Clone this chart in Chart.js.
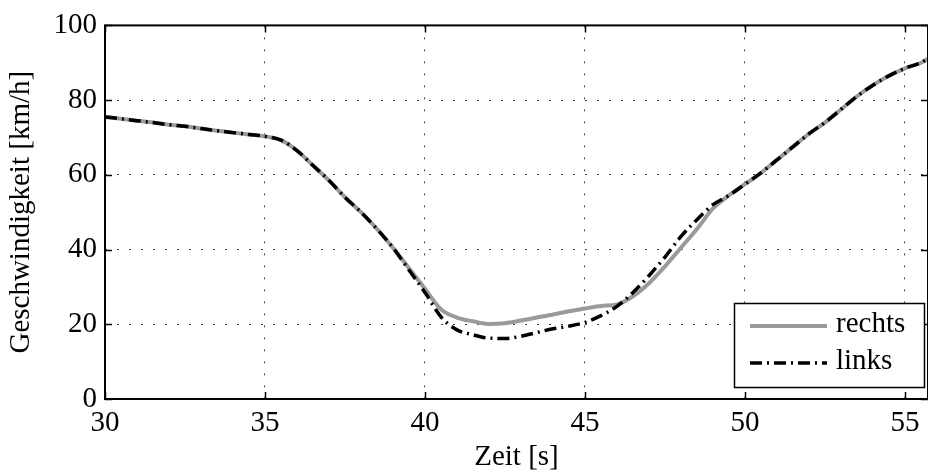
<!DOCTYPE html>
<html>
<head>
<meta charset="utf-8">
<script src="https://cdn.jsdelivr.net/npm/chart.js@4"></script>
<style>
  html, body { margin: 0; padding: 0; background: #fff; }
  #wrap { width: 928px; height: 473px; }
</style>
</head>
<body>
<div id="wrap"><canvas id="grafico" width="928" height="473"></canvas></div>
<script>
// Zeit [s]
const zeit = [30, 30.5, 31, 31.5, 32, 32.5, 33, 33.5, 34, 34.5, 35, 35.5, 36, 36.5, 37, 37.5, 38, 38.5, 39, 39.5,
  40, 40.5, 41, 41.5, 42, 42.5, 43, 43.5, 44, 44.5, 45, 45.5, 46, 46.5, 47, 47.5, 48, 48.5, 49, 49.5,
  50, 50.5, 51, 51.5, 52, 52.5, 53, 53.5, 54, 54.5, 55, 55.5, 55.7];
// Geschwindigkeit [km/h]
const rechts = [75.5, 75.0, 74.5, 74.0, 73.4, 73.0, 72.4, 71.8, 71.3, 70.8, 70.3, 69.3, 66.5, 62.5, 58.5, 54.0, 50.0, 45.5, 40.5, 35.0,
  29.5, 24.0, 21.8, 20.8, 20.1, 20.3, 21.0, 21.8, 22.6, 23.5, 24.2, 24.9, 25.3, 27.5, 31.0, 35.5, 40.5, 45.5, 51.0, 54.5,
  57.5, 60.5, 64.0, 67.5, 71.0, 74.0, 77.5, 81.0, 84.0, 86.5, 88.5, 90.0, 91.0];
const links = [75.5, 75.0, 74.5, 74.0, 73.4, 73.0, 72.4, 71.8, 71.3, 70.8, 70.3, 69.3, 66.5, 62.5, 58.5, 54.0, 50.0, 45.5, 40.5, 34.5,
  28.5, 22.0, 18.5, 17.2, 16.3, 16.2, 16.8, 17.8, 18.8, 19.5, 20.5, 22.3, 24.8, 28.5, 33.0, 38.0, 43.5, 48.0, 52.0, 54.5,
  57.5, 60.5, 64.0, 67.5, 71.0, 74.0, 77.5, 81.0, 84.0, 86.5, 88.5, 90.0, 91.0];
const xTicks = [30, 35, 40, 45, 50, 55];
const yTicks = [0, 20, 40, 60, 80, 100];
const legendeNamen = ['rechts', 'links'];

const SCHRIFT = '"Liberation Serif", "DejaVu Serif", serif';
const GROESSE = 29;
const GRAU = '#9a9a9a';
const STRICHPUNKT = [12, 5, 2, 5];

function punkte(werte) {
  return zeit.map((t, i) => ({ x: t, y: werte[i] }));
}

// Rahmen, innere Teilstriche und Legende wie in MATLAB
const rahmenPlugin = {
  id: 'rahmen',
  afterDatasetsDraw(chart) {
    const ctx = chart.ctx;
    const a = chart.chartArea;
    const sx = chart.scales.x;
    const sy = chart.scales.y;
    ctx.save();
    ctx.strokeStyle = '#000';
    ctx.lineWidth = 1.5;
    const tl = 7;
    xTicks.forEach(v => {
      const px = Math.round(sx.getPixelForValue(v)) + 0.5;
      ctx.beginPath();
      ctx.moveTo(px, a.bottom); ctx.lineTo(px, a.bottom - tl);
      ctx.moveTo(px, a.top); ctx.lineTo(px, a.top + tl);
      ctx.stroke();
    });
    yTicks.forEach(v => {
      const py = Math.round(sy.getPixelForValue(v)) + 0.5;
      ctx.beginPath();
      ctx.moveTo(a.left, py); ctx.lineTo(a.left + tl, py);
      ctx.moveTo(a.right, py); ctx.lineTo(a.right - tl, py);
      ctx.stroke();
    });
    ctx.lineWidth = 2;
    ctx.strokeRect(a.left, a.top, a.right - a.left, a.bottom - a.top);

    // Legende
    const lx = 734, ly = 303, lw = 190, lh = 84;
    ctx.fillStyle = '#fff';
    ctx.fillRect(lx, ly, lw, lh);
    ctx.lineWidth = 1.5;
    ctx.strokeStyle = '#000';
    ctx.strokeRect(lx + 0.5, ly + 0.5, lw, lh);

    ctx.lineWidth = 4;
    ctx.strokeStyle = GRAU;
    ctx.beginPath();
    ctx.moveTo(750, 326); ctx.lineTo(827, 326);
    ctx.stroke();

    ctx.lineWidth = 3.5;
    ctx.strokeStyle = '#000';
    ctx.setLineDash(STRICHPUNKT);
    ctx.beginPath();
    ctx.moveTo(750, 363); ctx.lineTo(827, 363);
    ctx.stroke();
    ctx.setLineDash([]);

    ctx.fillStyle = '#000';
    ctx.font = GROESSE + 'px ' + SCHRIFT;
    ctx.textBaseline = 'middle';
    ctx.textAlign = 'left';
    ctx.fillText(legendeNamen[0], 836, 324);
    ctx.fillText(legendeNamen[1], 836, 361);
    ctx.restore();
  }
};

const ctx = document.getElementById('grafico').getContext('2d');
new Chart(ctx, {
  type: 'line',
  data: {
    datasets: [
      {
        label: legendeNamen[1],
        data: punkte(links),
        borderColor: '#000',
        borderWidth: 3.5,
        borderDash: STRICHPUNKT,
        pointRadius: 0,
        cubicInterpolationMode: 'monotone',
        fill: false,
        order: 1
      },
      {
        label: legendeNamen[0],
        data: punkte(rechts),
        borderColor: GRAU,
        borderWidth: 4,
        pointRadius: 0,
        cubicInterpolationMode: 'monotone',
        fill: false,
        order: 2
      }
    ]
  },
  options: {
    responsive: false,
    animation: false,
    layout: { padding: { top: 21, right: 0, left: 0, bottom: 0 } },
    plugins: {
      legend: { display: false },
      tooltip: { enabled: false }
    },
    scales: {
      x: {
        type: 'linear',
        min: 30,
        max: 55.72,
        afterFit(scale) { scale.height = 74; },
        afterBuildTicks(scale) { scale.ticks = xTicks.map(v => ({ value: v })); },
        ticks: {
          color: '#000',
          font: { family: SCHRIFT, size: GROESSE },
          padding: 7,
          maxRotation: 0
        },
        grid: { color: '#444', lineWidth: 1, drawTicks: false },
        border: { display: false, dash: [2, 10] },
        title: {
          display: true,
          text: 'Zeit [s]',
          color: '#000',
          font: { family: SCHRIFT, size: GROESSE },
          padding: { top: 0, bottom: -2 }
        }
      },
      y: {
        min: 0,
        max: 100,
        afterFit(scale) { scale.width = 105; },
        afterBuildTicks(scale) { scale.ticks = yTicks.map(v => ({ value: v })); },
        ticks: {
          color: '#000',
          font: { family: SCHRIFT, size: GROESSE },
          padding: 8
        },
        grid: { color: '#444', lineWidth: 1, drawTicks: false },
        border: { display: false, dash: [2, 10] },
        title: {
          display: true,
          text: 'Geschwindigkeit [km/h]',
          color: '#000',
          font: { family: SCHRIFT, size: GROESSE },
          padding: 4
        }
      }
    }
  },
  plugins: [rahmenPlugin]
});
</script>
</body>
</html>
